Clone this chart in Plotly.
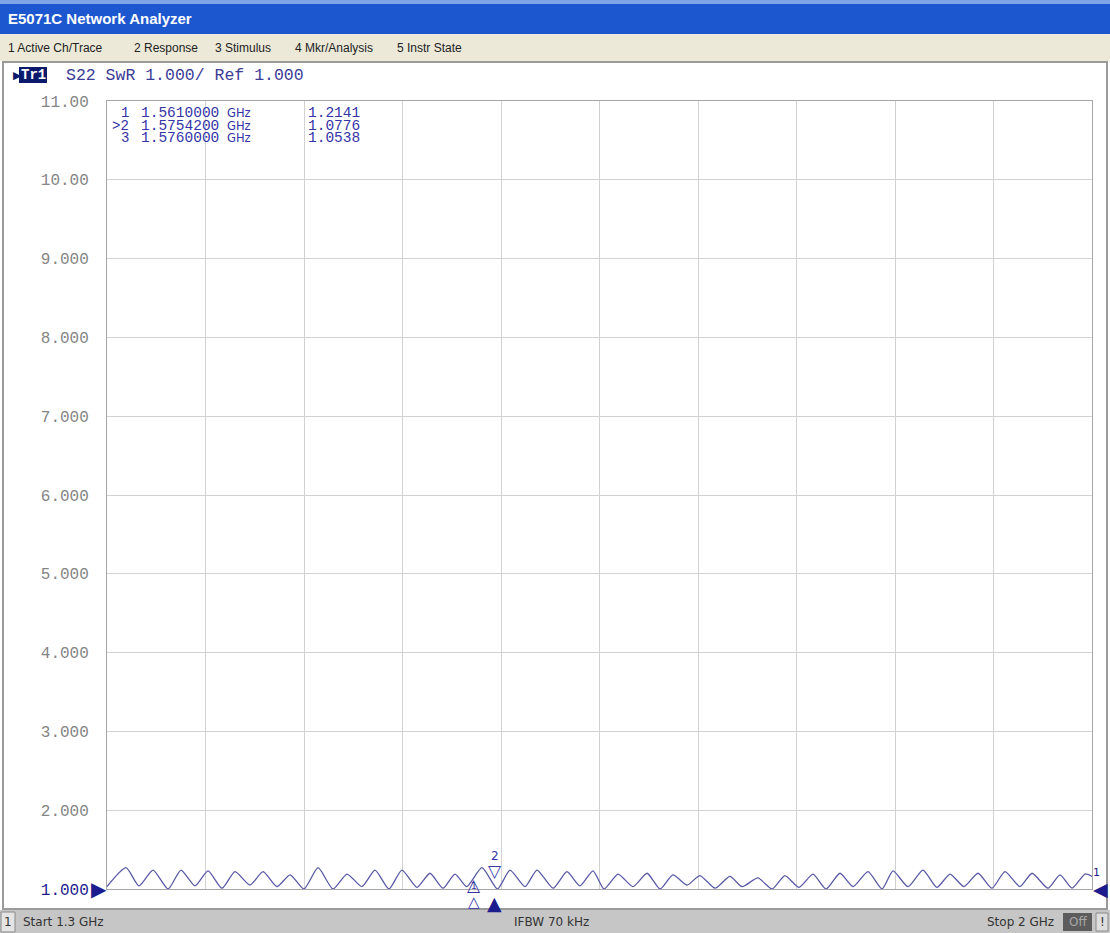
import plotly.graph_objects as go

# ---------------- data ----------------
freq_ghz = [1.3000, 1.3135, 1.3227, 1.3327, 1.3434, 1.3526, 1.3625, 1.3718, 1.3817, 1.3910,
            1.4016, 1.4109, 1.4208, 1.4301, 1.4400, 1.4500, 1.4606, 1.4706, 1.4812, 1.4905,
            1.5004, 1.5096, 1.5203, 1.5295, 1.5388, 1.5473, 1.5556, 1.5665, 1.5775, 1.5864,
            1.5971, 1.6056, 1.6170, 1.6269, 1.6361, 1.6454, 1.6532, 1.6632, 1.6738, 1.6838,
            1.6930, 1.7022, 1.7122, 1.7214, 1.7321, 1.7427, 1.7513, 1.7626, 1.7726, 1.7818,
            1.7918, 1.8017, 1.8110, 1.8209, 1.8302, 1.8408, 1.8508, 1.8586, 1.8692, 1.8799,
            1.8898, 1.8991, 1.9090, 1.9190, 1.9289, 1.9382, 1.9488, 1.9574, 1.9687, 1.9773,
            1.9858, 1.9950, 2.0000]
swr = [1.03, 1.27, 1.04, 1.24, 1.00, 1.24, 1.04, 1.23, 1.01, 1.22,
       1.05, 1.22, 1.03, 1.18, 1.00, 1.27, 1.00, 1.19, 1.03, 1.24,
       1.00, 1.24, 1.02, 1.20, 1.01, 1.19, 1.03, 1.27, 1.00, 1.24,
       1.03, 1.24, 1.01, 1.22, 1.04, 1.23, 1.00, 1.19, 1.03, 1.20,
       1.00, 1.18, 1.05, 1.17, 1.01, 1.16, 1.03, 1.14, 1.00, 1.17,
       1.02, 1.19, 1.00, 1.20, 1.03, 1.22, 1.00, 1.23, 1.03, 1.24,
       1.02, 1.19, 1.03, 1.20, 1.01, 1.22, 1.03, 1.20, 1.01, 1.18,
       1.01, 1.19, 1.16]

marker_ids = ["1", ">2", "3"]
marker_freqs = [1.5610000, 1.5754200, 1.5760000]
marker_vals = [1.2141, 1.0776, 1.0538]

y_tick_vals = [1, 2, 3, 4, 5, 6, 7, 8, 9, 10, 11]
y_tick_text = ["1.000", "2.000", "3.000", "4.000", "5.000", "6.000", "7.000",
               "8.000", "9.000", "10.00", "11.00"]

start_ghz, stop_ghz = 1.3, 2.0
ref_val = 1.0
menu_items = ["1 Active Ch/Trace", "2 Response", "3 Stimulus", "4 Mkr/Analysis", "5 Instr State"]

# ---------------- layout helpers ----------------
W, H = 1110, 933
L, R, T, B = 107, 18, 101, 44
PW = W - L - R
PH = H - T - B


def px(x):
    return (x - L) / PW


def py(y):
    return (H - B - y) / PH


TRACE = "#5a5aa6"
NAVY = "#1c1c8e"
MKR = "#3434a8"
MONO = "Liberation Mono"
SANS = "Liberation Sans"

fig = go.Figure()
fig.add_trace(go.Scatter(x=freq_ghz, y=swr, mode="lines",
                         line=dict(color=TRACE, width=1.3, shape="spline", smoothing=0.6),
                         hoverinfo="skip", showlegend=False))

shapes = []
# title bar
shapes.append(dict(type="rect", xref="paper", yref="paper", x0=px(0), x1=px(W), y0=py(0), y1=py(34),
                   fillcolor="#1d57cf", line=dict(width=0), layer="below"))
shapes.append(dict(type="rect", xref="paper", yref="paper", x0=px(0), x1=px(W), y0=py(0), y1=py(4),
                   fillcolor="#7ea4e6", line=dict(width=0), layer="below"))
# menu bar
shapes.append(dict(type="rect", xref="paper", yref="paper", x0=px(0), x1=px(W), y0=py(34), y1=py(61),
                   fillcolor="#ece9d8", line=dict(width=0), layer="below"))
# window body frame
shapes.append(dict(type="rect", xref="paper", yref="paper", x0=px(3), x1=px(1107), y0=py(62), y1=py(909),
                   fillcolor="white", line=dict(color="#9a9a9a", width=2), layer="below"))
# status bar
shapes.append(dict(type="rect", xref="paper", yref="paper", x0=px(0), x1=px(W), y0=py(910), y1=py(H),
                   fillcolor="#c6c6c6", line=dict(width=0), layer="below"))
shapes.append(dict(type="rect", xref="paper", yref="paper", x0=px(1), x1=px(15), y0=py(912), y1=py(932),
                   fillcolor="#e4e4e4", line=dict(color="#8a8a8a", width=1), layer="below"))
shapes.append(dict(type="rect", xref="paper", yref="paper", x0=px(1063), x1=px(1092), y0=py(913), y1=py(931),
                   fillcolor="#5c5c5c", line=dict(width=0), layer="below"))
shapes.append(dict(type="rect", xref="paper", yref="paper", x0=px(1096), x1=px(1108), y0=py(913), y1=py(931),
                   fillcolor="#dedede", line=dict(color="#8a8a8a", width=1), layer="below"))
# Tr1 box
shapes.append(dict(type="rect", xref="paper", yref="paper", x0=px(19), x1=px(47), y0=py(67), y1=py(83),
                   fillcolor="#0c1a6e", line=dict(width=0), layer="below"))

ann = []
ann.append(dict(x=px(6), y=py(18), xref="paper", yref="paper", xanchor="left", yanchor="middle",
                text="<b>E5071C Network Analyzer</b>", showarrow=False,
                font=dict(family=SANS, size=15, color="white")))
for xpos, item in zip([6, 132, 213, 293, 395], menu_items):
    ann.append(dict(x=px(xpos), y=py(48), xref="paper", yref="paper", xanchor="left", yanchor="middle",
                    text=item, showarrow=False, font=dict(family=SANS, size=12, color="#222222")))
# header
ann.append(dict(x=px(11), y=py(75), xref="paper", yref="paper", xanchor="left", yanchor="middle",
                text="▶", showarrow=False, font=dict(family="DejaVu Sans", size=11, color="#0c1a6e")))
ann.append(dict(x=px(33), y=py(75), xref="paper", yref="paper", xanchor="center", yanchor="middle",
                text="<b>Tr1</b>", showarrow=False, font=dict(family=MONO, size=14, color="white")))
ann.append(dict(x=px(64), y=py(75), xref="paper", yref="paper", xanchor="left", yanchor="middle",
                text="S22 SwR 1.000/ Ref 1.000", showarrow=False,
                font=dict(family=MONO, size=16.5, color="#3c3c96")))
# marker table
for i, (mid, mf, mv) in enumerate(zip(marker_ids, marker_freqs, marker_vals)):
    yy = py(113.5 + 12 * i)
    ann.append(dict(x=px(131), y=yy, xref="paper", yref="paper", xanchor="right", yanchor="middle",
                    text=mid, showarrow=False, font=dict(family=MONO, size=14, color=MKR)))
    ann.append(dict(x=px(139), y=yy, xref="paper", yref="paper", xanchor="left", yanchor="middle",
                    text=f"{mf:.7f}", showarrow=False, font=dict(family=MONO, size=14.5, color=MKR)))
    ann.append(dict(x=px(225), y=yy, xref="paper", yref="paper", xanchor="left", yanchor="middle",
                    text="GHz", showarrow=False, font=dict(family="DejaVu Sans", size=11.5, color=MKR)))
    ann.append(dict(x=px(306), y=yy, xref="paper", yref="paper", xanchor="left", yanchor="middle",
                    text=f"{mv:.4f}", showarrow=False, font=dict(family=MONO, size=14.5, color=MKR)))

# reference position triangles
ann.append(dict(x=start_ghz, y=ref_val, xref="x", yref="y", xanchor="right", yanchor="middle",
                xshift=2, text="▶", showarrow=False, font=dict(family="DejaVu Sans", size=20, color=NAVY)))
ann.append(dict(x=stop_ghz, y=ref_val, xref="x", yref="y", xanchor="left", yanchor="middle",
                xshift=-1, text="◀", showarrow=False, font=dict(family="DejaVu Sans", size=19, color=NAVY)))
ann.append(dict(x=stop_ghz, y=ref_val, xref="x", yref="y", xanchor="left", yanchor="bottom",
                xshift=-1, yshift=8, text="1", showarrow=False, font=dict(family="DejaVu Sans", size=11, color=NAVY)))

# markers on the trace
ann.append(dict(x=marker_freqs[0], y=marker_vals[0], xref="x", yref="y", xanchor="center", yanchor="top",
                yshift=-1, text="△", showarrow=False, font=dict(family="DejaVu Sans", size=17, color=MKR)))
ann.append(dict(x=marker_freqs[0], y=marker_vals[0], xref="x", yref="y", xanchor="center", yanchor="top",
                yshift=-7, text="1", showarrow=False, font=dict(family="DejaVu Sans", size=9, color=MKR)))
ann.append(dict(x=marker_freqs[1], y=marker_vals[1], xref="x", yref="y", xanchor="center", yanchor="bottom",
                text="▽", showarrow=False, font=dict(family="DejaVu Sans", size=17, color=MKR)))
ann.append(dict(x=marker_freqs[1], y=marker_vals[1], xref="x", yref="y", xanchor="center", yanchor="bottom",
                yshift=18, text="2", showarrow=False, font=dict(family="DejaVu Sans", size=12, color=MKR)))
# stimulus markers below axis
ann.append(dict(x=marker_freqs[0], y=ref_val, xref="x", yref="y", xanchor="center", yanchor="top",
                yshift=-2, text="△", showarrow=False, font=dict(family="DejaVu Sans", size=15, color=MKR)))
ann.append(dict(x=marker_freqs[1], y=ref_val, xref="x", yref="y", xanchor="center", yanchor="top",
                yshift=-1, text="▲", showarrow=False, font=dict(family="DejaVu Sans", size=19, color=NAVY)))

# status bar text
ann.append(dict(x=px(8), y=py(922), xref="paper", yref="paper", xanchor="center", yanchor="middle",
                text="1", showarrow=False, font=dict(family="DejaVu Sans", size=12, color="#333333")))
ann.append(dict(x=px(21), y=py(922), xref="paper", yref="paper", xanchor="left", yanchor="middle",
                text=f"Start {start_ghz:g} GHz", showarrow=False, font=dict(family="DejaVu Sans", size=12, color="#333333")))
ann.append(dict(x=px(551), y=py(922), xref="paper", yref="paper", xanchor="center", yanchor="middle",
                text="IFBW 70 kHz", showarrow=False, font=dict(family="DejaVu Sans", size=12, color="#333333")))
ann.append(dict(x=px(1056), y=py(922), xref="paper", yref="paper", xanchor="right", yanchor="middle",
                text=f"Stop {stop_ghz:g} GHz", showarrow=False, font=dict(family="DejaVu Sans", size=12, color="#333333")))
ann.append(dict(x=px(1077.5), y=py(922), xref="paper", yref="paper", xanchor="center", yanchor="middle",
                text="Off", showarrow=False, font=dict(family="DejaVu Sans", size=12, color="#a8a8a8")))
ann.append(dict(x=px(1102), y=py(922), xref="paper", yref="paper", xanchor="center", yanchor="middle",
                text="!", showarrow=False, font=dict(family="DejaVu Sans", size=12, color="#333333")))

tick_text_styled = [f'<span style="color:{NAVY}">{t}</span>' if v == ref_val else t
                    for v, t in zip(y_tick_vals, y_tick_text)]

fig.update_layout(
    width=W, height=H,
    margin=dict(l=L, r=R, t=T, b=B, pad=0),
    paper_bgcolor="white", plot_bgcolor="white",
    showlegend=False,
    shapes=shapes, annotations=ann,
    xaxis=dict(range=[start_ghz, stop_ghz], tick0=start_ghz, dtick=(stop_ghz - start_ghz) / 10,
               showticklabels=False, ticks="", showgrid=True, gridcolor="#d2d2d2", gridwidth=1,
               zeroline=False, showline=True, linecolor="#a6a6a6", linewidth=1, mirror=True,
               fixedrange=True),
    yaxis=dict(range=[1, 11], tickvals=y_tick_vals, ticktext=tick_text_styled, ticks="",
               ticklabelstandoff=14,
               tickfont=dict(family=MONO, size=16, color="#858585"),
               showgrid=True, gridcolor="#d2d2d2", gridwidth=1, zeroline=False,
               showline=True, linecolor="#a6a6a6", linewidth=1, mirror=True, fixedrange=True),
)

fig.write_html("out.html", config={"displayModeBar": False},
               post_script="document.body.style.margin='0';document.body.style.overflow='hidden';")
